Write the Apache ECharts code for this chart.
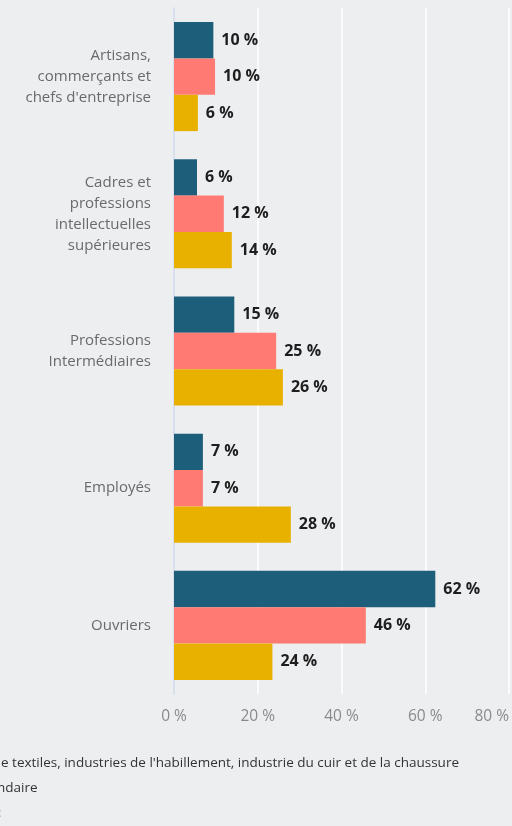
<!DOCTYPE html>
<html><head><meta charset="utf-8">
<script src="https://cdn.jsdelivr.net/npm/echarts@6/dist/echarts.min.js"></script>
<style>html,body{margin:0;padding:0;background:#edeef0;}#c{width:512px;height:826px;}</style>
</head><body><div id="c"></div>
<script>
const categories = ["Artisans,\ncommerçants et\nchefs d'entreprise", "Cadres et\nprofessions\nintellectuelles\nsupérieures", "Professions\nIntermédiaires", "Employés", "Ouvriers"];
const seriesNames = ["Série 1", "Série 2", "Série 3"];
const values1 = [9.4, 5.5, 14.4, 6.9, 62.4];
const values2 = [9.8, 11.9, 24.4, 6.9, 45.8];
const values3 = [5.7, 13.8, 26.0, 27.9, 23.5];
const labels1 = [10, 6, 15, 7, 62];
const labels2 = [10, 12, 25, 7, 46];
const labels3 = [6, 14, 26, 28, 24];
const xTicks = {min: 0, max: 80, interval: 20};
const colors = ["#1d5e7b", "#ff7a73", "#e8b100"];
const footer = [
  "e textiles, industries de l'habillement, industrie du cuir et de la chaussure",
  "ndaire",
  ":"
];

const chart = echarts.init(document.getElementById('c'));
const vals = [values1, values2, values3];
const labs = [labels1, labels2, labels3];
const font = "'Open Sans', sans-serif";
chart.setOption({
  backgroundColor: '#edeef0',
  animation: false,
  grid: {left: 174, right: 2, top: 8, bottom: 132, containLabel: false},
  xAxis: {
    type: 'value', min: xTicks.min, max: xTicks.max, interval: xTicks.interval,
    axisLine: {show: false}, axisTick: {show: false},
    splitLine: {lineStyle: {color: '#ffffff', width: 1.5}},
    axisLabel: {formatter: '{value} %', color: '#8a8a8a', fontSize: 15.5, fontFamily: font, margin: 15, alignMaxLabel: 'right'}
  },
  yAxis: {
    type: 'category', data: categories, inverse: true,
    axisLine: {show: true, lineStyle: {color: '#cdd7ea', width: 1.5}},
    axisTick: {show: false},
    axisLabel: {color: '#6a6a6a', fontSize: 15, fontFamily: font, margin: 23, lineHeight: 21, align: 'right'}
  },
  series: vals.map((v, i) => ({
    name: seriesNames[i], type: 'bar', data: v,
    barGap: '0%', barCategoryGap: '20.5%',
    itemStyle: {color: colors[i]},
    label: {show: true, position: 'right', distance: 8, color: '#1e1e1e', fontWeight: 'bold', fontSize: 16, fontFamily: font,
      formatter: p => labs[i][p.dataIndex] + ' %'}
  })),
  graphic: footer.map((t, i) => ({
    type: 'text', x: i === 0 ? 1 : (i === 1 ? -3 : -2), y: 756 + i * 25,
    style: {text: t, fill: i === 2 ? '#999' : '#333', font: '13.5px ' + font}
  }))
});
</script></body></html>
